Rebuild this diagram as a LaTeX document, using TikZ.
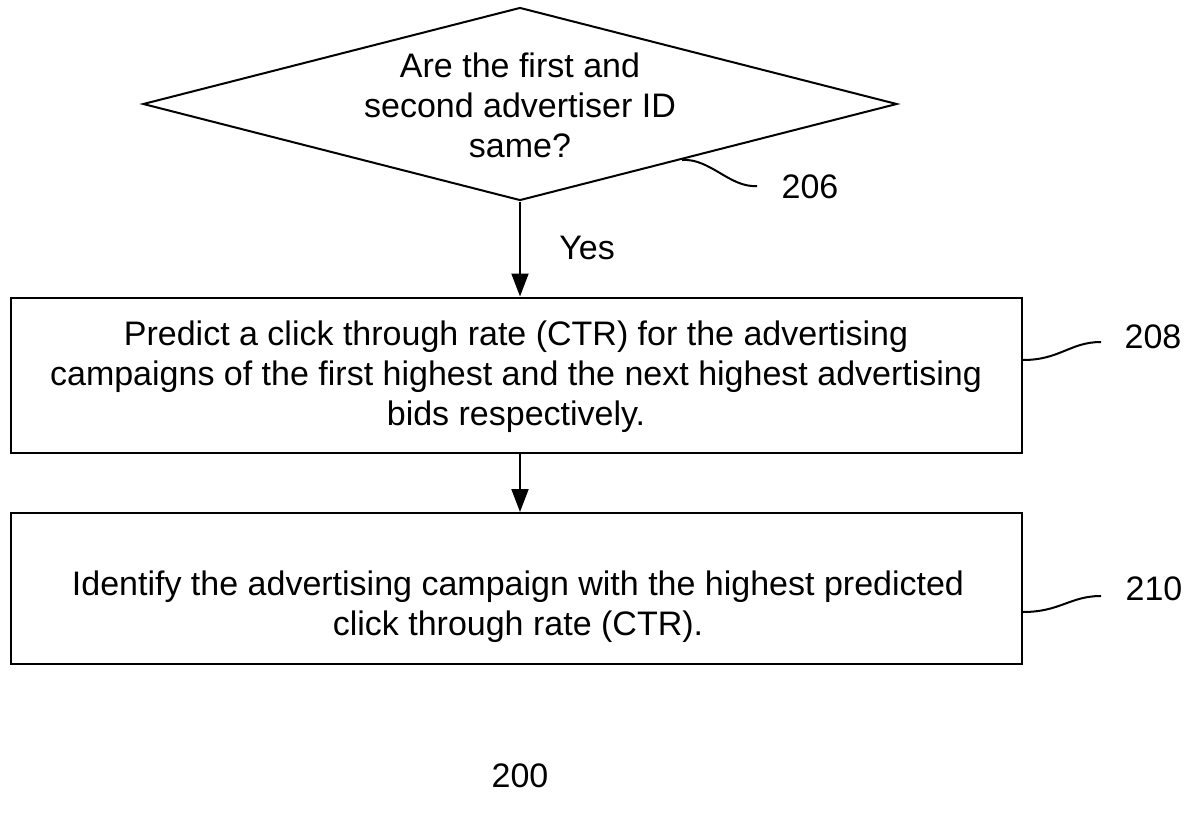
\documentclass[tikz,border=0pt]{standalone}
\usepackage{fontspec}
\setmainfont{Liberation Sans}
\usetikzlibrary{shapes.geometric,arrows.meta}
\begin{document}
\begin{tikzpicture}[x=1pt,y=-1pt,
  every node/.style={font=\fontsize{34}{40}\selectfont},
  boxstyle/.style={draw, line width=2pt, minimum width=1011pt, inner sep=0pt},
  textstyle/.style={align=center, inner sep=0pt},
  flow/.style={line width=2pt, -{Triangle[width=17pt,length=23pt]}},
  lead/.style={line width=2pt}]
\useasboundingbox (0,0) rectangle (1203,822);
\node[diamond, draw, line width=2pt, minimum width=754pt, minimum height=193pt, inner sep=0pt] (d206) at (520,104) {};
\node[textstyle] (t206) at (520,105) {Are the first and\\second advertiser ID\\same?};
\node[textstyle] (l206) at (810,187) {206};
\node[boxstyle, minimum height=155pt] (b208) at (516.5,375) {};
\node[textstyle] (t208) at (516,377) {Predict a click through rate (CTR) for the advertising\\campaigns of the first highest and the next highest advertising\\bids respectively.};
\node[textstyle] (l208) at (1153,337) {208};
\node[boxstyle, minimum height=151pt] (b210) at (516.5,588.5) {};
\node[textstyle] (t210) at (518,607) {Identify the advertising campaign with the highest predicted\\click through rate (CTR).};
\node[textstyle] (l210) at (1154,589) {210};
\node[textstyle] (yes) at (587,248) {Yes};
\node[textstyle] (n200) at (520,776) {200};
\draw[flow] (d206.south) -- (d206.south |- b208.north);
\draw[flow] (d206.south |- b208.south) -- (d206.south |- b210.north);
\coordinate (s206) at (682,160);
\coordinate (e206) at (757,186);
\draw[lead] (s206) .. controls (710,158) and (730,188) .. (e206);
\coordinate (e208) at (1101,342);
\draw[lead] (b208.east |- 0,360) .. controls (1060,360) and (1070,342) .. (e208);
\coordinate (e210) at (1101,596);
\draw[lead] (b210.east |- 0,612) .. controls (1060,612) and (1070,596) .. (e210);
\end{tikzpicture}
\end{document}
